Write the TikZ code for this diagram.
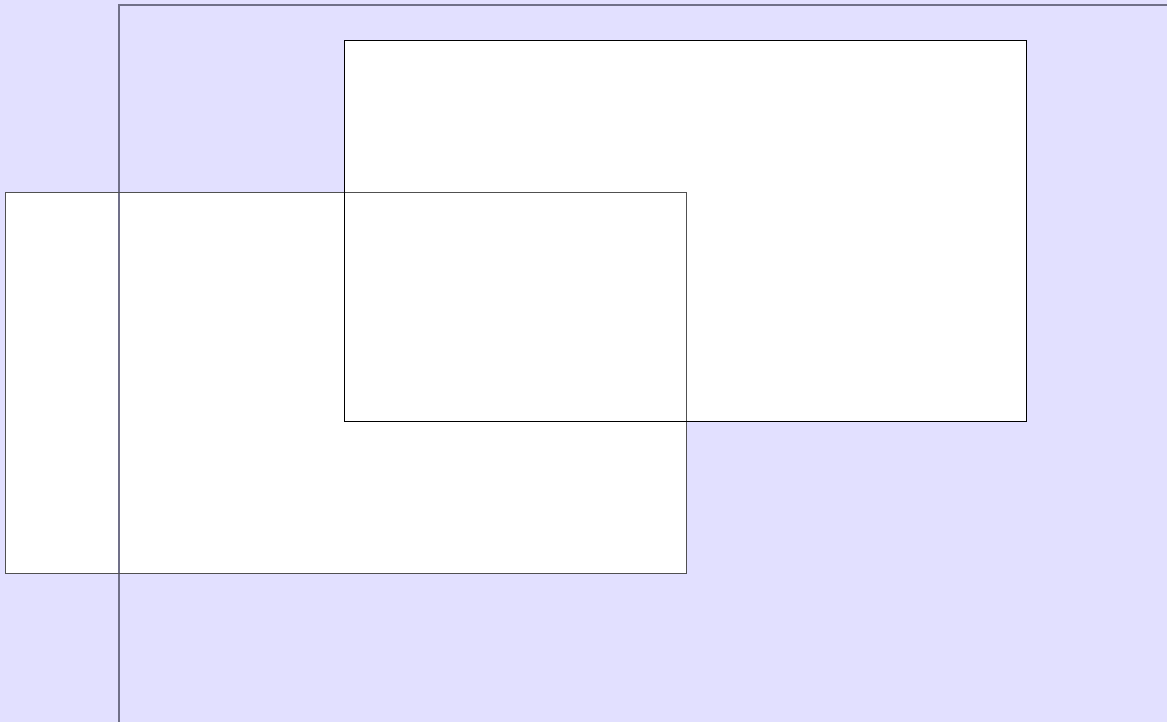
\documentclass[tikz,border=0pt]{standalone}
\definecolor{lav}{HTML}{E2E0FF}
\definecolor{axisgray}{HTML}{707088}
\definecolor{boxgray}{HTML}{505050}
\tikzset{
  panelfill/.style={fill=white, draw=none},
  panelA/.style={draw=boxgray, line width=1pt},
  panelB/.style={draw=black, line width=1pt},
  frameline/.style={draw=axisgray, line width=1.3pt}
}
\begin{document}
\begin{tikzpicture}[x=1pt,y=-1pt]
\fill[lav] (0,0) rectangle (1167,722);
\useasboundingbox (0,0) rectangle (1167,722);
% fills
\path[panelfill] (5,193) rectangle (686,573);
\path[panelfill] (344,41) rectangle (1026,421);
% frame
\draw[frameline] (119,722) -- (119,5) -- (1167,5);
% borders
\draw[panelA] (5,193) rectangle (686,573);
\draw[panelB] (344,41) rectangle (1026,421);
\end{tikzpicture}
\end{document}
